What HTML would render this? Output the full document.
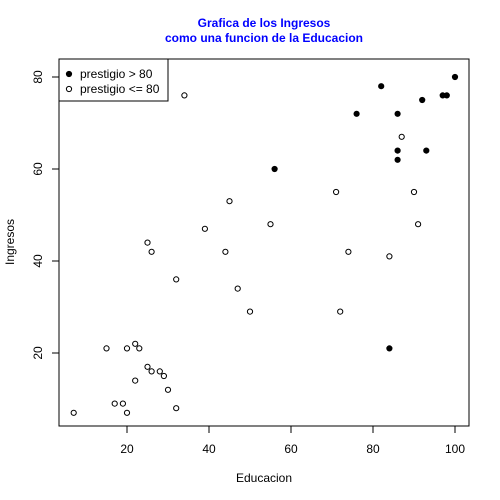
<!DOCTYPE html>
<html><head><meta charset="utf-8"><style>body{margin:0;background:#fff}svg{display:block;font-family:"Liberation Sans",Arial,sans-serif}</style></head>
<body>
<svg id="chart" width="500" height="500">
<rect width="500" height="500" fill="#fff"/>
<text x="264" y="27" text-anchor="middle" font-size="12" font-weight="bold" fill="#0000ff">Grafica de los Ingresos</text>
<text x="264" y="42" text-anchor="middle" font-size="12" font-weight="bold" fill="#0000ff">como una funcion de la Educacion</text>
<rect x="59" y="59" width="410" height="367" fill="none" stroke="#000"/>
<g id="xaxis"></g>
<g id="yaxis"></g>
<text x="264" y="482" text-anchor="middle" font-size="12">Educacion</text>
<text transform="translate(14,242) rotate(-90)" text-anchor="middle" font-size="12">Ingresos</text>
<g id="points"></g>
<g>
<rect x="59" y="59" width="109" height="42" fill="#fff" stroke="#000"/>
<circle cx="69" cy="74" r="2.6" fill="#000" stroke="#000"/>
<text x="80" y="78" font-size="12">prestigio &gt; 80</text>
<circle cx="69" cy="89" r="2.6" fill="none" stroke="#000"/>
<text x="80" y="93" font-size="12">prestigio &lt;= 80</text>
</g>
</svg>
<script>
const highEdu=[100,82,97,98,92,76,86,86,93,86,56,84];
const highInc=[80,78,76,76,75,72,72,64,64,62,60,21];
const lowEdu=[34,87,71,90,45,55,91,39,25,26,44,74,84,32,47,50,72,15,20,23,22,25,26,28,29,22,30,17,19,32,7,20];
const lowInc=[76,67,55,55,53,48,48,47,44,42,42,42,41,36,34,29,29,21,21,21,22,17,16,16,15,14,12,9,9,8,7,7];
const xTicks=[20,40,60,80,100];
const yTicks=[20,40,60,80];
const NS='http://www.w3.org/2000/svg';
const sx=v=>45+v*4.1;
const sy=v=>445-v*4.6;
function mk(tag,attrs,parent){const e=document.createElementNS(NS,tag);for(const k in attrs)e.setAttribute(k,attrs[k]);parent.appendChild(e);return e;}
const xa=document.getElementById('xaxis'),ya=document.getElementById('yaxis'),pg=document.getElementById('points');
xTicks.forEach(t=>{mk('line',{x1:sx(t),x2:sx(t),y1:426,y2:433,stroke:'#000'},xa);
const tx=mk('text',{x:sx(t),y:453,'text-anchor':'middle','font-size':12},xa);tx.textContent=t;

});
yTicks.forEach(t=>{mk('line',{x1:52,x2:59,y1:sy(t),y2:sy(t),stroke:'#000'},ya);
const tx=mk('text',{transform:`translate(42,${sy(t)}) rotate(-90)`,'text-anchor':'middle','font-size':12},ya);tx.textContent=t;

});
highEdu.forEach((e,i)=>{const c=mk('circle',{cx:sx(e),cy:sy(highInc[i]),r:2.6,fill:'#000',stroke:'#000'},pg);

});
lowEdu.forEach((e,i)=>{const c=mk('circle',{cx:sx(e),cy:sy(lowInc[i]),r:2.6,fill:'none',stroke:'#000'},pg);

});
</script>
</body></html>
